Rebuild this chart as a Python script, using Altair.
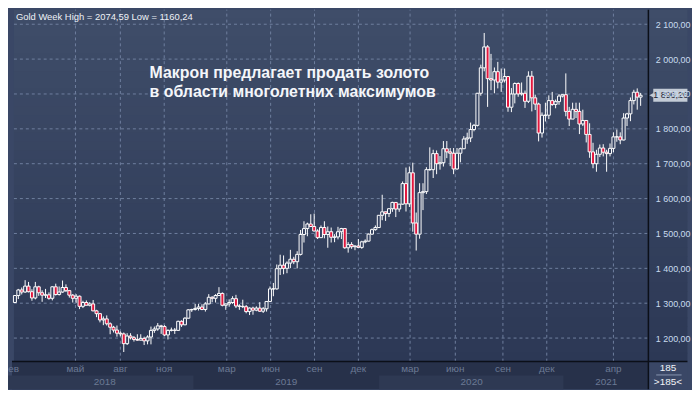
import altair as alt
import pandas as pd

# ---------------- data (weekly candles) ----------------
opens = [1302,1322,1338,1332,1349,1333,1315,1347,1330,1323,1324,1314,1347,1325,1332,1345,1336,1323,1314,1320,
         1291,1302,1294,1298,1278,1270,1252,1255,1241,1231,1223,1214,1212,1184,1206,1201,1196,1194,1199,1192,
         1203,1222,1226,1235,1233,1209,1222,1223,1222,1248,1238,1257,1281,1282,1285,1289,1282,1298,1317,1314,
         1322,1328,1294,1298,1302,1313,1292,1291,1290,1276,1286,1280,1286,1277,1284,1305,1341,1341,1399,1409,
         1400,1415,1426,1419,1440,1497,1514,1527,1520,1507,1488,1517,1497,1505,1489,1490,1505,1514,1459,1468,
         1462,1464,1460,1476,1478,1498,1511,1517,1552,1562,1557,1571,1589,1570,1584,1643,1585,1674,1530,1498,1617,
         1620,1683,1683,1729,1700,1703,1743,1734,1730,1685,1730,1743,1771,1774,1798,1810,1902,1975,2035,1944,
         1940,1964,1934,1940,1950,1862,1900,1930,1900,1902,1879,1951,1889,1871,1788,1839,1839,1881,1870,1878,1894,1898,
         1850,1828,1856,1850,1814,1824,1784,1734,1700,1727,1745,1733,1729,1744,1777,1777,1768,1831,1843,1881,
         1905,1891]
highs = [1323,1341,1345,1366,1361,1340,1361,1350,1337,1341,1331,1349,1356,1348,1365,1354,1338,1326,1326,1322,
         1307,1308,1303,1309,1281,1272,1262,1265,1245,1235,1236,1219,1216,1214,1214,1206,1211,1211,1204,1208,
         1233,1233,1243,1238,1237,1225,1230,1229,1250,1251,1260,1283,1284,1298,1298,1297,1303,1326,1320,1326,
         1346,1331,1299,1311,1320,1324,1297,1310,1295,1288,1290,1291,1303,1289,1306,1348,1358,1411,1439,1437,
         1420,1453,1433,1449,1510,1535,1531,1555,1557,1512,1523,1535,1520,1517,1498,1519,1516,1514,1475,1475,
         1466,1484,1479,1483,1500,1514,1523,1553,1611,1563,1573,1591,1590,1585,1649,1689,1692,1703,1560,1644,1644,
         1690,1747,1740,1738,1722,1765,1765,1745,1745,1745,1746,1779,1789,1818,1814,1903,1984,2075,2040,2015,
         1976,1992,1973,1973,1950,1917,1933,1933,1933,1910,1965,1966,1898,1875,1847,1875,1896,1906,1884,1900,1899,1959,
         1863,1875,1875,1875,1855,1824,1816,1760,1740,1755,1756,1740,1758,1790,1798,1790,1845,1846,1890,1912,
         1916,1903]
lows = [1301,1312,1325,1330,1331,1307,1311,1321,1304,1315,1310,1308,1322,1322,1330,1332,1316,1302,1301,1283,
        1286,1294,1291,1277,1260,1245,1237,1236,1211,1216,1204,1205,1160,1180,1196,1190,1192,1193,1180,1182,
        1182,1215,1221,1212,1206,1196,1219,1212,1221,1232,1237,1256,1275,1279,1279,1280,1276,1297,1303,1302,
        1321,1291,1281,1290,1298,1286,1281,1286,1271,1266,1267,1277,1275,1272,1276,1305,1320,1339,1381,1383,
        1386,1401,1412,1400,1437,1474,1492,1520,1506,1484,1488,1486,1459,1474,1475,1483,1484,1456,1445,1456,
        1452,1458,1456,1472,1477,1496,1508,1516,1538,1536,1547,1562,1547,1562,1582,1563,1576,1505,1451,1485,1567,
        1613,1680,1659,1670,1683,1692,1716,1693,1670,1683,1704,1742,1757,1762,1793,1807,1895,1965,1863,1911,
        1902,1916,1906,1933,1849,1848,1873,1892,1895,1860,1874,1850,1854,1764,1775,1821,1828,1866,1859,1869,1890,1836,
        1808,1828,1831,1785,1808,1761,1717,1687,1677,1719,1721,1677,1721,1733,1763,1756,1767,1808,1822,1870,
        1855,1866]
closes = [1322,1338,1332,1349,1333,1315,1347,1330,1323,1324,1314,1347,1325,1332,1345,1336,1323,1314,1320,1291,
          1302,1294,1298,1278,1270,1252,1255,1241,1231,1223,1214,1212,1184,1206,1201,1196,1194,1199,1192,1203,
          1222,1226,1235,1233,1209,1222,1223,1222,1248,1238,1257,1281,1282,1285,1289,1282,1298,1317,1314,1322,
          1328,1294,1298,1302,1313,1292,1291,1290,1276,1286,1280,1286,1277,1284,1305,1341,1341,1399,1409,1400,
          1415,1426,1419,1440,1497,1514,1527,1520,1507,1488,1517,1497,1505,1489,1490,1505,1514,1459,1468,1462,
          1464,1460,1476,1478,1498,1511,1517,1552,1562,1557,1571,1589,1570,1584,1643,1585,1674,1530,1498,1617,1620,
          1683,1683,1729,1700,1703,1743,1734,1730,1685,1730,1743,1771,1774,1798,1810,1902,1975,2035,1944,1940,
          1964,1934,1940,1950,1862,1900,1930,1900,1902,1879,1951,1889,1871,1788,1839,1839,1881,1870,1878,1894,1898,1850,
          1828,1856,1850,1814,1824,1784,1734,1700,1727,1745,1733,1729,1744,1777,1777,1768,1831,1843,1881,1905,
          1891,1896.26]

month_labels = ["фев", "май", "авг", "ноя", "мар", "июн", "сен", "дек", "мар", "июн", "сен", "дек", "апр"]
month_bars = [-1.6, 17.8, 31.0, 43.9, 62.3, 75.2, 88.1, 101.0, 116.2, 129.5, 143.5, 156.4, 176.0]
year_labels = ["2018", "2019", "2020", "2021"]
year_start_bars = [-2.0, 52.5, 107.1, 161.3]
year_end_bars = [52.5, 107.1, 161.3, 186.28]
year_label_bars = [26.4, 79.8, 134.3, 173.9]
price_ticks = [1200, 1300, 1400, 1500, 1600, 1700, 1800, 1900, 2000, 2100]
last_price = 1896.26
bar_total = "185"
title_text = "Gold Week High = 2074,59 Low = 1160,24"
note_lines = ["Макрон предлагает продать золото", "в области многолетних максимумов"]

# ---------------- geometry helpers ----------------
W, H = 650, 355
X_DOM = [-0.29, 186.28]
Y_DOM = [1132.6, 2141.8]
xs = alt.Scale(domain=X_DOM, nice=False, zero=False)
ys = alt.Scale(domain=Y_DOM, nice=False, zero=False)


def bx(px):  # pixel -> bar-index units
    return X_DOM[0] + px / W * (X_DOM[1] - X_DOM[0])


def py(pix):  # pixel -> price units
    return Y_DOM[1] - pix / H * (Y_DOM[1] - Y_DOM[0])


GRID = "#6f809f"
FONT = "Liberation Sans"

y_axis = alt.Axis(orient="right", values=price_ticks, grid=False, ticks=False, domain=False, title=None,
                  labelPadding=2, labelColor="#c9dbef", labelFont=FONT, labelFontSize=9, zindex=2,
                  labelOverlap=False, labelBound=False, labelFlush=False, tickCount=10,
                  labelExpr="replace(replace(format(datum.value, ',.2f'), ',', ' '), '.', ',')")


def X(f):
    return alt.X(f, scale=xs, axis=None)


def Y(f):
    return alt.Y(f, scale=ys, axis=y_axis)


# ---------------- frames ----------------
n = len(closes)
candles = pd.DataFrame({"i": list(range(n)), "o": opens, "h": highs, "l": lows, "c": closes})
candles["top"] = candles[["o", "c"]].max(axis=1)
candles["bot"] = candles[["o", "c"]].min(axis=1)
months = pd.DataFrame({"i": month_bars, "label": month_labels})
grid_months = months[months["i"] >= 0].reset_index(drop=True)
ticks = pd.DataFrame({"p": price_ticks})

# background panels (plot gradient stripes, bottom band, corner box, year shading)
top_rgb, bot_rgb = (63, 77, 105), (44, 56, 85)
NS = 40
rows = []
for k in range(NS):
    col = "#%02x%02x%02x" % tuple(round(a + (b - a) * (k + 0.5) / NS) for a, b in zip(top_rgb, bot_rgb))
    rows.append((bx(0), bx(W + 40), py(H * k / NS), py(H * (k + 1) / NS + 0.7), col))
rows.append((bx(-2), bx(W), py(H), py(H + 28), "#27314a"))
rows.append((bx(W), bx(W + 40), py(H), py(H + 28), "#3a4766"))
for s, e, shade in zip(year_start_bars, year_end_bars, [1, 0, 1, 0]):
    if shade:
        rows.append((s, e, py(H + 14), py(H + 28), "#2e3953"))
panels = pd.DataFrame(rows, columns=["x0", "x1", "y0", "y1", "col"])

bg = alt.Chart(panels).mark_rect().encode(
    x=X("x0:Q"), x2="x1:Q", y=Y("y0:Q"), y2="y1:Q",
    color=alt.Color("col:N", scale=None))

# grid lines
hgrid = alt.Chart(ticks).transform_calculate(a=str(X_DOM[0]), b=str(X_DOM[1])).mark_rule(
    color=GRID, strokeDash=[3, 3], strokeWidth=1).encode(
    x=X("a:Q"), x2="b:Q", y=Y("p:Q"))
vgrid = alt.Chart(grid_months).transform_calculate(a=str(Y_DOM[0]), b=str(Y_DOM[1])).mark_rule(
    color=GRID, strokeDash=[3, 3], strokeWidth=1).encode(
    x=X("i:Q"), y=Y("a:Q"), y2="b:Q")

# separators (black)
seps = pd.DataFrame({"x0": [bx(-2), bx(W)], "x1": [bx(W + 40), bx(W)],
                     "y0": [py(H), py(0)], "y1": [py(H), py(H + 28)]})
sep = alt.Chart(seps).mark_rule(color="#0b0f18", strokeWidth=1.5).encode(
    x=X("x0:Q"), x2="x1:Q", y=Y("y0:Q"), y2="y1:Q")
cl = pd.DataFrame({"x0": [bx(W + 8)], "x1": [bx(W + 34)], "y0": [py(H + 13.5)]})
corner_line = alt.Chart(cl).mark_rule(color="#9aa8c0", strokeWidth=0.8).encode(
    x=X("x0:Q"), x2="x1:Q", y=Y("y0:Q"))

# bottom texts
yt = pd.DataFrame({"x": year_label_bars, "y": [py(H + 21)] * 4, "t": year_labels})
mt = pd.DataFrame({"x": month_bars, "y": [py(H + 8)] * len(month_bars), "t": month_labels})
band_txt = alt.Chart(pd.concat([yt, mt])).mark_text(
    font=FONT, fontSize=10, color="#6b7994", baseline="middle").encode(
    x=X("x:Q"), y=Y("y:Q"), text="t:N")
ct = pd.DataFrame({"x": [bx(W + 20)] * 2, "y": [py(H + 7), py(H + 20.5)],
                   "t": [bar_total, ">" + bar_total + "<"]})
corner_txt = alt.Chart(ct).mark_text(font=FONT, fontSize=10, color="#f2f4f8", baseline="middle").encode(
    x=X("x:Q"), y=Y("y:Q"), text="t:N")

# candles
wick_up = alt.Chart(candles).mark_rule(color="white", strokeWidth=1).encode(
    x=X("i:Q"), y=Y("h:Q"), y2="top:Q")
wick_dn = alt.Chart(candles).mark_rule(color="white", strokeWidth=1).encode(
    x=X("i:Q"), y=Y("bot:Q"), y2="l:Q")
body = alt.Chart(candles).mark_bar(width=3, stroke="white", strokeWidth=1).encode(
    x=X("i:Q"), y=Y("o:Q"), y2="c:Q",
    fill=alt.condition("datum.c < datum.o", alt.value("#e3173e"), alt.value("#354261")))

# price tag
tag_half = 6.5 * (Y_DOM[1] - Y_DOM[0]) / H
tag = pd.DataFrame({"p": [last_price], "p0": [last_price - tag_half], "p1": [last_price + tag_half],
                    "x0": [bx(W + 5)], "x1": [bx(W + 40)], "xa": [bx(W + 4)], "t": ["1 896,26"]})
tag_rect = alt.Chart(tag).mark_rect(color="#c3cbd6").encode(
    x=X("x0:Q"), x2="x1:Q", y=Y("p0:Q"), y2="p1:Q")
tag_arrow = alt.Chart(tag).mark_point(shape="triangle-left", filled=True, color="#c3cbd6", size=45,
                                      opacity=1).encode(
    x=X("xa:Q"), y=Y("p:Q"))
tag_text = alt.Chart(tag).mark_text(font=FONT, fontSize=9, color="#1a2233", align="left",
                                    baseline="middle").encode(
    x=X("x0:Q"), y=Y("p:Q"), text="t:N")

# texts
tt = pd.DataFrame({"x": [bx(2)], "y": [py(7)], "t": [title_text]})
title_mark = alt.Chart(tt).mark_text(font=FONT, fontSize=9.5, color="#eef1f6", align="left",
                                     baseline="middle").encode(
    x=X("x:Q"), y=Y("y:Q"), text="t:N")
nt = pd.DataFrame({"x": [bx(139)] * 2, "y": [py(64), py(83)], "t": note_lines})
note = alt.Chart(nt).mark_text(font=FONT, fontSize=16, fontWeight="bold", color="#f4f6fa",
                               align="left", baseline="middle").encode(
    x=X("x:Q"), y=Y("y:Q"), text="t:N")

chart = alt.layer(
    bg, hgrid, vgrid, wick_up, wick_dn, body,
    sep, corner_line, band_txt, corner_txt,
    tag_rect, tag_arrow, tag_text, title_mark, note,
).properties(
    width=W, height=H,
    autosize=alt.AutoSizeParams(type="none"),
    padding={"left": 1, "top": 0, "right": 39, "bottom": 27},
    background="#3a4766",
).configure_view(stroke="transparent")

chart.save("out.html", embed_options={"renderer": "svg", "actions": False})
